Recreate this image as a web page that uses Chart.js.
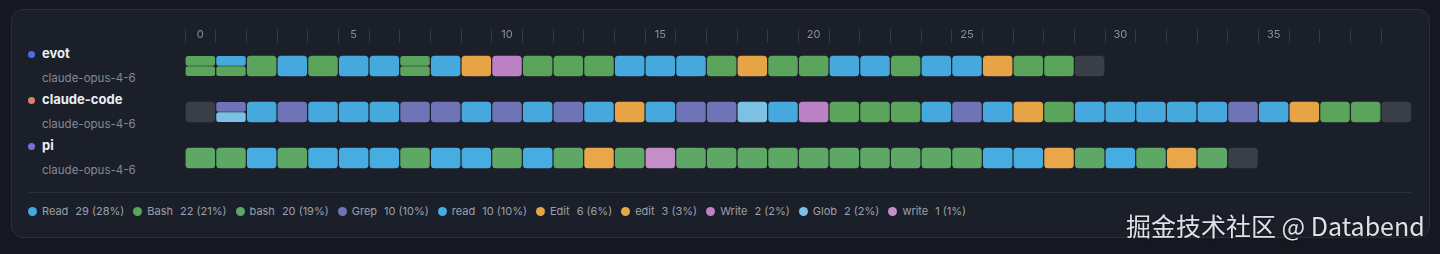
<!DOCTYPE html>
<html>
<head>
<meta charset="utf-8">
<script src="https://cdn.jsdelivr.net/npm/chart.js@4.4.1/dist/chart.umd.min.js"></script>
<style>
  html, body { margin: 0; padding: 0; }
  body {
    width: 1440px; height: 254px; overflow: hidden; position: relative;
    background: #151821; font-family: Inter, "Noto Sans", sans-serif;
  }
  .panel {
    position: absolute; left: 11px; top: 9px; width: 1417px; height: 227px;
    background: #1b1f2a; border: 1px solid #2a2f3a; border-radius: 12px;
  }
  .sep { position: absolute; left: 28px; top: 192px; width: 1384px; height: 1px; background: #2a2f3a; }
  .agent { position: absolute; left: 28px; }
  .agent .name { position: absolute; left: 14px; top: -9px; font-size: 13px; font-weight: 700; color: #eceef2; white-space: nowrap; }
  .agent .dot { position: absolute; left: 0; top: -3px; width: 7px; height: 7px; border-radius: 50%; }
  .agent .model { position: absolute; left: 14px; top: 17px; font-size: 11.5px; color: #848a95; white-space: nowrap; }
  #legend {
    position: absolute; left: 28px; top: 204px; display: flex; gap: 9px;
    font-size: 11px; color: #9ba0aa; white-space: nowrap;
  }
  #legend .item { display: flex; align-items: center; }
  #legend .sw { width: 9px; height: 9px; border-radius: 50%; margin-right: 5px; }
  #legend .cnt { margin-left: 7px; }
  .mark {
    position: absolute; left: 1126px; top: 207px; font-size: 25px;
    font-family: "Noto Sans CJK SC", "Noto Sans", sans-serif; color: #dfe1e5;
    text-shadow: 0 0 2px rgba(0,0,0,0.6); white-space: nowrap;
  }
  #wrap { position: absolute; left: 0; top: 0; width: 1440px; height: 254px; }
</style>
</head>
<body>
<div class="panel"></div>
<div class="sep"></div>
<div id="agents"></div>
<div id="legend"></div>
<div id="wrap"><canvas id="timeline"></canvas></div>
<div class="mark">掘金技术社区 @ Databend</div>
<script>
const agents = ["evot", "claude-code", "pi"];
const models = ["claude-opus-4-6", "claude-opus-4-6", "claude-opus-4-6"];
const agentColors = ["#4b6fe0", "#d9826b", "#7a6fd8"];

const tools = ["Read", "Bash", "bash", "Grep", "read", "Edit", "edit", "Write", "Glob", "write"];
const toolCounts = [29, 22, 20, 10, 10, 6, 3, 2, 2, 1];
const toolPercents = [28, 21, 19, 10, 10, 6, 3, 2, 2, 1];
const toolColors = ["#45a9dd", "#5aa45b", "#5ea866", "#6f74b6", "#47acdf", "#e6a446", "#e9a64b", "#bd82c6", "#7cc0e3", "#c58ec8"];
const idleColor = "#3a3e46";

// one entry per step; [a, b] = two calls in the same step, "-" = idle
const evotSteps = [["Bash", "Bash"], ["Read", "Bash"], "Bash", "Read", "Bash", "Read", "Read", ["Bash", "Bash"], "Read", "Edit",
  "Write", "Bash", "Bash", "Bash", "Read", "Read", "Read", "Bash", "Edit", "Bash",
  "Bash", "Read", "Read", "Bash", "Read", "Read", "Edit", "Bash", "Bash", "-"];
const claudeCodeSteps = ["-", ["Grep", "Glob"], "Read", "Grep", "Read", "Read", "Read", "Grep", "Grep", "Read",
  "Grep", "Read", "Grep", "Read", "Edit", "Read", "Grep", "Grep", "Glob", "Read",
  "Write", "Bash", "Bash", "Bash", "Read", "Grep", "Read", "Edit", "Bash", "Read",
  "Read", "Read", "Read", "Read", "Grep", "Read", "Edit", "Bash", "Bash", "-"];
const piSteps = ["bash", "bash", "read", "bash", "read", "read", "read", "bash", "read", "read",
  "bash", "read", "bash", "edit", "bash", "write", "bash", "bash", "bash", "bash",
  "bash", "bash", "bash", "bash", "bash", "bash", "read", "read", "edit", "bash",
  "read", "bash", "edit", "bash", "-"];
const stepTicks = 40;

const rows = [evotSteps, claudeCodeSteps, piSteps];

// row labels
const agentBox = document.getElementById("agents");
const rowLabelY = [54, 100, 146];
agents.forEach((name, i) => {
  const div = document.createElement("div");
  div.className = "agent";
  div.style.top = rowLabelY[i] + "px";
  div.innerHTML = `<span class="dot" style="background:${agentColors[i]}"></span>
    <span class="name">${name}</span><span class="model">${models[i]}</span>`;
  agentBox.appendChild(div);
});

// legend
const legend = document.getElementById("legend");
tools.forEach((t, i) => {
  const div = document.createElement("div");
  div.className = "item";
  div.innerHTML = `<span class="sw" style="background:${toolColors[i]}"></span>${t}<span class="cnt">${toolCounts[i]} (${toolPercents[i]}%)</span>`;
  legend.appendChild(div);
});

// build datasets: full cells and half cells per tool
const gap = 0.03;
const halfShift = 0.113;
const buckets = {};
const bucket = (key, color, half) => {
  if (!buckets[key]) {
    buckets[key] = {
      label: key,
      data: [],
      backgroundColor: color,
      borderRadius: half ? 2.5 : 3.5,
      borderSkipped: false,
      barThickness: half ? 9 : 20,
      grouped: false,
    };
  }
  return buckets[key];
};
rows.forEach((steps, r) => {
  steps.forEach((s, c) => {
    const xr = [c + gap, c + 1 - gap];
    if (Array.isArray(s)) {
      s.forEach((t, k) => {
        const ti = tools.indexOf(t);
        bucket(t + "-half", toolColors[ti], true).data.push({ x: xr, y: r + (k === 0 ? -halfShift : halfShift) });
      });
    } else if (s === "-") {
      bucket("idle", idleColor, false).data.push({ x: xr, y: r });
    } else {
      const ti = tools.indexOf(s);
      bucket(s, toolColors[ti], false).data.push({ x: xr, y: r });
    }
  });
});

const cellWidth = (1440 - 185 - 28.33) / stepTicks;

new Chart(document.getElementById("timeline"), {
  type: "bar",
  data: { datasets: Object.values(buckets) },
  options: {
    indexAxis: "y",
    responsive: true,
    maintainAspectRatio: false,
    animation: false,
    events: [],
    layout: { padding: { left: 185, right: 28.33, top: 28, bottom: 73 } },
    plugins: { legend: { display: false }, tooltip: { enabled: false } },
    scales: {
      x: {
        type: "linear",
        position: "top",
        min: 0,
        max: stepTicks,
        border: { display: false },
        grid: {
          drawOnChartArea: false,
          drawTicks: true,
          tickLength: 14,
          color: (ctx) => (ctx.tick && ctx.tick.value === stepTicks ? "rgba(0,0,0,0)" : "#343a46"),
        },
        ticks: {
          stepSize: 1,
          autoSkip: false,
          maxRotation: 0,
          padding: -12,
          labelOffset: cellWidth / 2,
          color: "#8b909b",
          font: { family: "Inter", size: 11 },
          callback: (v) => (v % 5 === 0 && v < stepTicks ? String(v) : ""),
        },
        afterFit: (scale) => { scale.height = 15; },
      },
      y: {
        type: "linear",
        min: -0.5,
        max: 2.5,
        reverse: true,
        offset: false,
        display: false,
      },
    },
  },
});
</script>
</body>
</html>
